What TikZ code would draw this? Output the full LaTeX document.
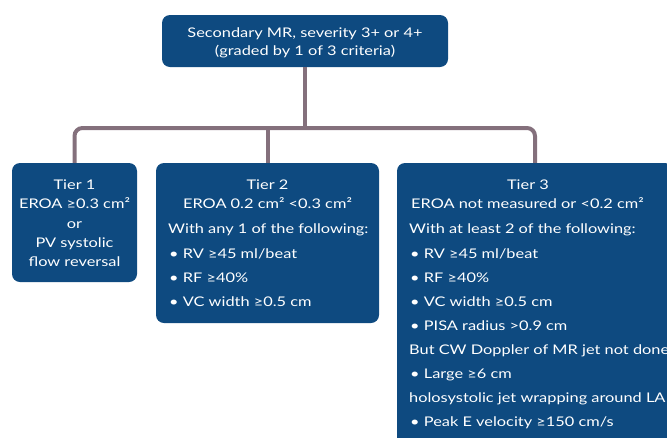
\documentclass[tikz,border=0pt]{standalone}
\usepackage{fontspec}
\setmainfont[FakeStretch=1.23]{Lato}
\definecolor{boxblue}{RGB}{14,74,128}
\definecolor{linegrey}{RGB}{132,112,124}
\begin{document}
\begin{tikzpicture}[x=1pt,y=-1pt,
  box/.style={fill=boxblue, rounded corners=8pt, inner sep=0pt, draw=none},
  conn/.style={draw=linegrey, line width=4pt},
  txt/.style={text=white, font=\fontsize{13.3}{16}\selectfont, inner sep=0pt, anchor=base},
  txtl/.style={txt, anchor=base west}]
\useasboundingbox (0,0) rectangle (667,437);
\clip (0,0) rectangle (667,437);
% boxes
\node[box, minimum width=286pt, minimum height=52pt] (top) at (305,41) {};
\node[box, minimum width=125pt, minimum height=119pt] (t1) at (74.5,222.5) {};
\node[box, minimum width=223pt, minimum height=160pt] (t2) at (267.5,243) {};
\node[box, minimum width=276pt, minimum height=287pt] (t3) at (535,306.5) {};
% connectors
\coordinate (bar) at (305,128);
\draw[conn] (top.south) -- (bar);
\draw[conn] (t2.north) -- (t2.north |- bar);
\draw[conn, rounded corners=8pt] (t1.north) |- (bar) -| (t3.north);
% top text
\node[txt] (top1) at (305,37) {Secondary MR, severity 3+ or 4+};
\node[txt] (top2) at (305,55) {(graded by 1 of 3 criteria)};
% tier 1
\node[txt] (a1) at (74.5,189) {Tier 1};
\node[txt] (a2) at (74.5,208) {EROA ≥0.3 cm²};
\node[txt] (a3) at (74.5,228) {or};
\node[txt] (a4) at (74.5,247) {PV systolic};
\node[txt] (a5) at (74.5,266) {flow reversal};
% tier 2
\node[txt] (b1) at (267.5,189) {Tier 2};
\node[txt] (b2) at (267.5,208) {EROA 0.2 cm² <0.3 cm²};
\node[txtl] (b3) at (168,233) {With any 1 of the following:};
\node[txtl] (b4) at (169,258) {• RV ≥45 ml/beat};
\node[txtl] (b5) at (169,282) {• RF ≥40\%};
\node[txtl] (b6) at (169,306) {• VC width ≥0.5 cm};
% tier 3
\node[txt] (c1) at (528,189) {Tier 3};
\node[txtl] (c2) at (411,208) {EROA not measured or <0.2 cm²};
\node[txtl] (c3) at (409,233) {With at least 2 of the following:};
\node[txtl] (c4) at (410,258) {• RV ≥45 ml/beat};
\node[txtl] (c5) at (410,282) {• RF ≥40\%};
\node[txtl] (c6) at (410,306) {• VC width ≥0.5 cm};
\node[txtl] (c7) at (410,330) {• PISA radius >0.9 cm};
\node[txtl] (c8) at (409,354) {But CW Doppler of MR jet not done};
\node[txtl] (c9) at (410,378) {• Large ≥6 cm};
\node[txtl] (c10) at (409,402) {holosystolic jet wrapping around LA};
\node[txtl] (c11) at (410,426) {• Peak E velocity ≥150 cm/s};
\end{tikzpicture}
\end{document}
